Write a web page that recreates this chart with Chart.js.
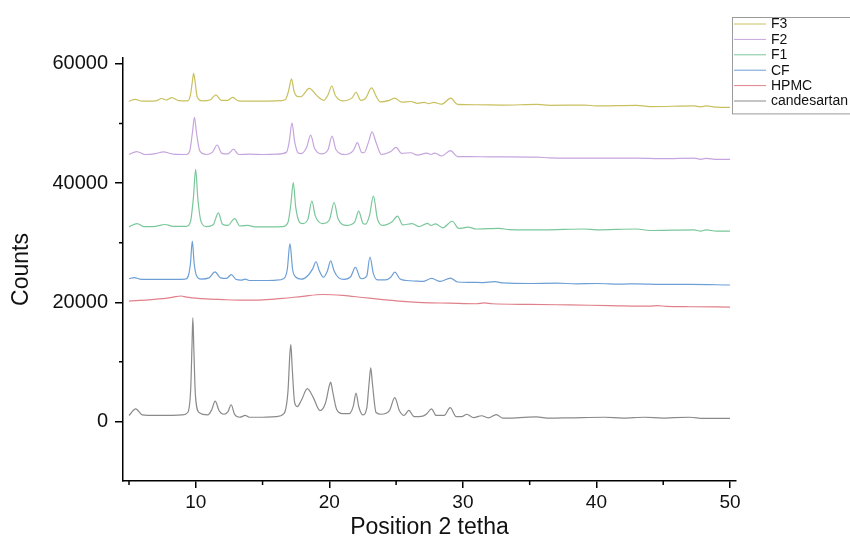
<!DOCTYPE html>
<html><head><meta charset="utf-8">
<script src="https://cdn.jsdelivr.net/npm/chart.js@4/dist/chart.umd.min.js"></script>
<style>html,body{margin:0;padding:0;background:#fff}#wrap{width:850px;height:542px}</style>
</head><body><div id="wrap"><canvas id="c" width="850" height="542"></canvas></div>
<script>
const seriesNames = ['F3','F2','F1','CF','HPMC','candesartan'];
const xTicks = [10,20,30,40,50];
const xMinorTicks = [5,15,25,35,45];
const yTicks = [0,20000,40000,60000];
const yMinorTicks = [10000,30000,50000];

const candesartan = [[5,1000],[5.5,2100],[6.0,1100],[7,1000],[8,1000],[9,1100],[9.4,1500],[9.62,5500],[9.72,13000],[9.78,17400],[9.85,12500],[9.97,4500],[10.25,1500],[10.9,1100],[11.2,2000],[11.45,3400],[11.75,1800],[12.1,1200],[12.4,1600],[12.65,2800],[12.9,1200],[13.3,700],[13.7,1000],[14.0,700],[15,700],[16,800],[16.6,1300],[16.9,5000],[17.05,11500],[17.12,12900],[17.22,9000],[17.4,3200],[17.6,2500],[17.9,3500],[18.35,5500],[18.8,4000],[19.3,1800],[19.7,3000],[20.0,6000],[20.1,6600],[20.25,5000],[20.55,2000],[21.0,1300],[21.5,1300],[21.8,2600],[22.0,4750],[22.2,2500],[22.5,1100],[22.8,2200],[22.98,6500],[23.1,9000],[23.22,6500],[23.5,1500],[23.9,1200],[24.5,1800],[24.9,4000],[25.25,1800],[25.6,1000],[25.95,1850],[26.35,800],[27.0,900],[27.3,1300],[27.65,2100],[28.0,1000],[28.6,1000],[29.05,2300],[29.5,800],[29.9,800],[30.3,1200],[30.8,650],[31.4,950],[31.9,600],[32.5,1150],[33.0,550],[34,600],[35.5,750],[36.5,550],[38,600],[40.6,700],[42,550],[43.6,700],[45,550],[45.8,650],[47,700],[48,520],[50,500]];

const hpmc = [[5,20200],[6.5,20400],[7.5,20600],[8.3,20850],[8.9,21050],[9.3,20850],[10.5,20600],[12.0,20450],[13.5,20350],[15,20400],[16.5,20650],[18,21000],[19.5,21300],[21,21150],[22.5,20800],[24,20450],[25.5,20150],[27,19950],[29,19850],[31,19750],[31.6,19900],[32.2,19750],[35,19650],[38,19550],[41,19450],[44,19350],[44.6,19450],[45.2,19300],[47,19250],[50,19200]];

const cf = [[5,23950],[5.4,24150],[5.8,23900],[7,23850],[8.5,23850],[9.2,23900],[9.45,24500],[9.6,26500],[9.74,30250],[9.88,26500],[10.05,24500],[10.4,23900],[11.0,24100],[11.44,25100],[11.85,24100],[12.3,24000],[12.66,24650],[13.0,23850],[13.4,23700],[13.7,23900],[14.0,23650],[15,23650],[16,23700],[16.6,24000],[16.85,25500],[17.05,29850],[17.25,25500],[17.5,24200],[17.9,23870],[18.4,24500],[18.75,25600],[19.0,26800],[19.25,25300],[19.55,24200],[19.85,25200],[20.1,26950],[20.35,25300],[20.7,24100],[21.1,23850],[21.6,24300],[21.95,25850],[22.3,24100],[22.45,23950],[22.8,24400],[23.04,27600],[23.3,24800],[23.6,23750],[24.2,23750],[24.6,24200],[24.9,25050],[25.3,23900],[25.8,23650],[26.5,23550],[27.0,23500],[27.66,24000],[28.3,23500],[29.07,24050],[29.6,23400],[30.5,23350],[31.5,23300],[32.4,23450],[33,23250],[35,23150],[37,23200],[38.5,23100],[40,23150],[42,23050],[43,23100],[45,23000],[47,23000],[50,22900]];

const f1 = [[5,32650],[5.6,33200],[6.1,32700],[7.0,32750],[7.7,33050],[8.3,32750],[9.3,32750],[9.6,33500],[9.82,37500],[9.99,42300],[10.15,37500],[10.4,33500],[10.8,32700],[11.3,33000],[11.69,35000],[12.0,33100],[12.4,32900],[12.91,34050],[13.3,32800],[13.9,32900],[14.4,32650],[15.5,32650],[16.5,32700],[16.9,33400],[17.12,36500],[17.3,40100],[17.48,36000],[17.75,33500],[18.0,33200],[18.4,34000],[18.69,37000],[18.95,34500],[19.5,33200],[20.0,33800],[20.36,36750],[20.65,34000],[21.3,32900],[21.9,33500],[22.2,35300],[22.5,33300],[22.7,33100],[23.0,34500],[23.3,37800],[23.6,34000],[24.0,32900],[24.7,33500],[25.1,34450],[25.5,33000],[26.2,33200],[26.7,32700],[27.35,33250],[27.6,32900],[27.95,33150],[28.5,32500],[29.2,33600],[29.7,32400],[30.4,32600],[31.0,32300],[32.7,32400],[33.5,32200],[36,32150],[39.1,32300],[40,32150],[43.0,32300],[44,32050],[47.3,32150],[47.8,31950],[48.2,32150],[49,31950],[50,31930]];

const f2 = [[5,44800],[5.57,45300],[6.2,44800],[7.0,44950],[7.57,45250],[8.3,44850],[9.3,44800],[9.55,45400],[9.75,48500],[9.9,51050],[10.05,48500],[10.3,45400],[10.8,44800],[11.25,45200],[11.6,46400],[11.95,45000],[12.4,44900],[12.83,45700],[13.2,44800],[14.0,44850],[15,44800],[16,44850],[16.8,45200],[17.0,47000],[17.2,50100],[17.4,47000],[17.65,45100],[17.9,44950],[18.3,46000],[18.6,48050],[18.9,45800],[19.4,44900],[19.9,45600],[20.2,47900],[20.5,45600],[21.2,44800],[21.8,45500],[22.1,46800],[22.4,45200],[22.6,45100],[22.95,47000],[23.2,48600],[23.5,46800],[23.9,44800],[24.6,45300],[25.0,46000],[25.4,45000],[26.1,45100],[26.6,44700],[27.3,45050],[27.6,44800],[27.9,45050],[28.4,44550],[29.07,45450],[29.6,44450],[30.5,44450],[32,44400],[35.5,44350],[36.5,44250],[40,44200],[43,44200],[45,44100],[47.3,44200],[47.8,44000],[48.2,44150],[49,43980],[50,43980]];

const f3 = [[5,53750],[5.45,54050],[6.0,53750],[7.0,53800],[7.44,54200],[7.8,53950],[8.2,54350],[8.7,53850],[9.4,53800],[9.6,54800],[9.74,57000],[9.84,58430],[9.95,57000],[10.1,54500],[10.5,53800],[11.1,54000],[11.5,54800],[11.9,53900],[12.4,53900],[12.76,54400],[13.2,53800],[14.5,53750],[16,53800],[16.7,54000],[16.95,55500],[17.17,57500],[17.35,55500],[17.6,54550],[17.85,54500],[18.5,55900],[19.1,54600],[19.6,53900],[19.9,54800],[20.18,56300],[20.45,54700],[21.0,53800],[21.7,54300],[22.0,55250],[22.35,53900],[22.7,54200],[23.17,56000],[23.5,54600],[23.8,53650],[24.5,53900],[24.9,54250],[25.4,53600],[26.1,53700],[26.6,53400],[27.1,53550],[27.45,53350],[27.8,53550],[28.4,53250],[29.1,54250],[29.6,53200],[31,53150],[33,53100],[35.6,53200],[36.5,53050],[39.1,53100],[40,52950],[43.0,53050],[44,52850],[47.3,52950],[47.8,52800],[48.2,52950],[49,52750],[50,52700]];

const seriesData = [f3, f2, f1, cf, hpmc, candesartan];
const seriesColors = ['#c9c05f','#c6a5de','#79c79a','#6d9fd6','#e0808a','#8a8a8a'];

const FONT = '"Liberation Sans", Arial, Helvetica, sans-serif';

const minorTickPlugin = {
  id: 'minorTicks',
  afterDraw(chart) {
    const ctx = chart.ctx;
    const xs = chart.scales.x, ys = chart.scales.y;
    ctx.save();
    ctx.strokeStyle = '#000';
    ctx.lineWidth = 1.5;
    ctx.beginPath();
    xMinorTicks.forEach(v => {
      const px = xs.getPixelForValue(v);
      ctx.moveTo(px, xs.top); ctx.lineTo(px, xs.top + 4);
    });
    yMinorTicks.forEach(v => {
      const py = ys.getPixelForValue(v);
      ctx.moveTo(ys.right, py); ctx.lineTo(ys.right - 4, py);
    });
    ctx.stroke();
    ctx.restore();
  }
};

const boxLegendPlugin = {
  id: 'boxLegend',
  afterDraw(chart) {
    const ctx = chart.ctx;
    ctx.save();
    const left = 732, top = 17, rowH = 15.4;
    const n = chart.data.datasets.length;
    ctx.fillStyle = '#fff';
    ctx.fillRect(left, top, 130, rowH * n + 4);
    ctx.strokeStyle = '#9a9a9a';
    ctx.lineWidth = 1;
    ctx.strokeRect(left + 0.5, top + 0.5, 130, rowH * n + 4);
    ctx.font = '14px ' + FONT;
    ctx.textBaseline = 'middle';
    ctx.textAlign = 'left';
    chart.data.datasets.forEach((ds, i) => {
      const y = top + 7 + i * rowH;
      ctx.strokeStyle = ds.borderColor;
      ctx.lineWidth = 1;
      ctx.beginPath();
      ctx.moveTo(left + 2, y); ctx.lineTo(left + 34, y);
      ctx.stroke();
      ctx.fillStyle = '#111';
      ctx.fillText(ds.label, left + 39, y + 0.5);
    });
    ctx.restore();
  }
};

const datasets = seriesNames.map((name, i) => ({
  label: name,
  data: seriesData[i].map(p => ({x: p[0], y: p[1]})),
  borderColor: seriesColors[i],
  borderWidth: 1.2,
  pointRadius: 0,
  fill: false,
  cubicInterpolationMode: 'monotone'
}));

new Chart(document.getElementById('c'), {
  type: 'line',
  data: { datasets },
  options: {
    responsive: false,
    animation: false,
    events: [],
    layout: { padding: { top: 58, right: 114, left: 0, bottom: 0 } },
    plugins: { legend: { display: false }, tooltip: { enabled: false } },
    scales: {
      x: {
        type: 'linear',
        min: 4.55, max: 50.45,
        afterBuildTicks: s => { s.ticks = xTicks.map(v => ({value: v})); },
        afterFit: s => { s.height = 61; },
        grid: { drawOnChartArea: false, drawTicks: true, tickLength: 7, color: '#000', lineWidth: 1.5 },
        border: { display: true, color: '#000', width: 1.5 },
        ticks: { color: '#111', font: { family: FONT, size: 19 }, padding: 3, maxRotation: 0, callback: v => String(v) },
        title: { display: true, text: 'Position 2 tetha', color: '#111', font: { family: FONT, size: 23 }, padding: { top: 0, bottom: 1 } }
      },
      y: {
        type: 'linear',
        min: -10000, max: 61000,
        afterBuildTicks: s => { s.ticks = yTicks.map(v => ({value: v})); },
        afterFit: s => { s.width = 123; },
        grid: { drawOnChartArea: false, drawTicks: true, tickLength: 8, color: '#000', lineWidth: 1.5 },
        border: { display: true, color: '#000', width: 1.5 },
        ticks: { color: '#111', font: { family: FONT, size: 20 }, padding: 7, callback: v => String(v) },
        title: { display: true, text: 'Counts', color: '#111', font: { family: FONT, size: 23 }, padding: { top: 8, bottom: 0 } }
      }
    }
  },
  plugins: [minorTickPlugin, boxLegendPlugin]
});
</script>
</body></html>
